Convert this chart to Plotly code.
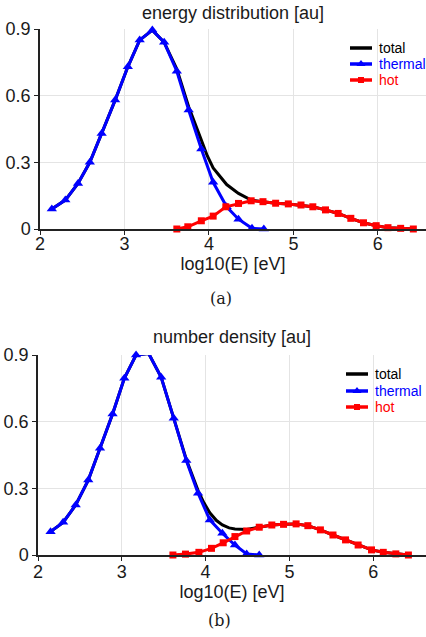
import plotly.graph_objects as go

# ---------------- data: panel (a) energy distribution ----------------
x_thermal_a = [2.14, 2.30, 2.45, 2.59, 2.73, 2.89, 3.04, 3.18, 3.33, 3.47, 3.62, 3.76, 3.91, 4.05, 4.21, 4.35, 4.51, 4.65]
y_thermal_a = [0.09, 0.13, 0.205, 0.30, 0.43, 0.58, 0.73, 0.85, 0.895, 0.84, 0.71, 0.535, 0.36, 0.21, 0.10, 0.044, 0.003, 0.0]
x_hot_a = [3.62, 3.75, 3.91, 4.05, 4.20, 4.35, 4.50, 4.64, 4.79, 4.94, 5.09, 5.23, 5.38, 5.53, 5.68, 5.83, 5.98, 6.12, 6.27, 6.42]
y_hot_a = [0.0, 0.01, 0.037, 0.058, 0.10, 0.115, 0.127, 0.123, 0.116, 0.113, 0.108, 0.10, 0.086, 0.07, 0.048, 0.028, 0.015, 0.006, 0.003, 0.0]
x_total_a = [2.14, 2.30, 2.45, 2.59, 2.73, 2.89, 3.04, 3.18, 3.33, 3.47, 3.62, 3.76, 3.91, 3.98, 4.05, 4.13, 4.21, 4.35, 4.50,
             4.64, 4.79, 4.94, 5.09, 5.23, 5.38, 5.53, 5.68, 5.83, 5.98, 6.12, 6.27, 6.42]
y_total_a = [0.09, 0.13, 0.205, 0.30, 0.43, 0.58, 0.73, 0.85, 0.895, 0.84, 0.72, 0.55, 0.40, 0.33, 0.275, 0.235, 0.20, 0.16, 0.13,
             0.123, 0.116, 0.113, 0.108, 0.10, 0.086, 0.07, 0.048, 0.028, 0.015, 0.006, 0.003, 0.0]

# ---------------- data: panel (b) number density ----------------
x_thermal_b = [2.15, 2.30, 2.45, 2.60, 2.74, 2.89, 3.03, 3.17, 3.32, 3.47, 3.62, 3.77, 3.91, 4.05, 4.20, 4.35, 4.49, 4.64]
y_thermal_b = [0.105, 0.147, 0.225, 0.337, 0.48, 0.635, 0.795, 0.90, 0.907, 0.80, 0.615, 0.425, 0.278, 0.158, 0.098, 0.045, 0.005, 0.0]
x_hot_b = [3.61, 3.76, 3.92, 4.07, 4.21, 4.35, 4.49, 4.64, 4.79, 4.93, 5.08, 5.22, 5.37, 5.52, 5.67, 5.82, 5.98, 6.12, 6.27, 6.42]
y_hot_b = [0.0, 0.004, 0.012, 0.03, 0.055, 0.083, 0.108, 0.125, 0.135, 0.138, 0.14, 0.132, 0.113, 0.09, 0.068, 0.045, 0.023, 0.012, 0.005, 0.0]
x_total_b = [2.15, 2.30, 2.45, 2.60, 2.74, 2.89, 3.03, 3.17, 3.32, 3.47, 3.62, 3.77, 3.91, 3.98, 4.05, 4.13, 4.20, 4.28, 4.35, 4.49,
             4.64, 4.79, 4.93, 5.08, 5.22, 5.37, 5.52, 5.67, 5.82, 5.98, 6.12, 6.27, 6.42]
y_total_b = [0.105, 0.147, 0.225, 0.337, 0.48, 0.635, 0.795, 0.90, 0.907, 0.80, 0.615, 0.43, 0.29, 0.235, 0.19, 0.155, 0.135, 0.122, 0.117, 0.115,
             0.125, 0.135, 0.138, 0.14, 0.132, 0.113, 0.09, 0.068, 0.045, 0.023, 0.012, 0.005, 0.0]

titles = ["energy distribution [au]", "number density [au]"]
captions = ["(a)", "(b)"]
x_title = "log10(E) [eV]"
y_ticks = [0, 0.3, 0.6, 0.9]
y_ticklabels = ["0", "0.3", "0.6", "0.9"]
x_ticks = [2, 3, 4, 5, 6]
series_names = ["total", "thermal", "hot"]

W, H = 426, 637
BLUE = "#0000ff"
RED = "#ff0000"
FONT = "Liberation Sans, Arial, sans-serif"
TXT = "#1a1a1a"
colors = ["black", BLUE, RED]
symbols = [None, "triangle-up", "square"]
msizes = [0, 9, 7]

fig = go.Figure()

panels = [
    (x_total_a, y_total_a, x_thermal_a, y_thermal_a, x_hot_a, y_hot_a, "x", "y"),
    (x_total_b, y_total_b, x_thermal_b, y_thermal_b, x_hot_b, y_hot_b, "x2", "y2"),
]
for xt, yt, xth, yth, xh, yh, xa, ya in panels:
    fig.add_trace(go.Scatter(x=xt, y=yt, mode="lines", name=series_names[0], xaxis=xa, yaxis=ya,
                             line=dict(color=colors[0], width=3), cliponaxis=False, showlegend=False))
    fig.add_trace(go.Scatter(x=xth, y=yth, mode="lines+markers", name=series_names[1], xaxis=xa, yaxis=ya,
                             line=dict(color=colors[1], width=3), showlegend=False,
                             marker=dict(symbol=symbols[1], size=msizes[1], color=colors[1]), cliponaxis=False))
    fig.add_trace(go.Scatter(x=xh, y=yh, mode="lines+markers", name=series_names[2], xaxis=xa, yaxis=ya,
                             line=dict(color=colors[2], width=3), showlegend=False,
                             marker=dict(symbol=symbols[2], size=msizes[2], color=colors[2]), cliponaxis=False))

# ---------------- legends (drawn on a hidden pixel-unit overlay axis) ----------------
legend_specs = [(350, 372, [48, 64, 80]), (346, 368, [374, 391, 407])]
legend_msizes = [0, 8, 6]
annotations = []
for x0, x1, rows in legend_specs:
    for name, col, sym, ms, yrow in zip(series_names, colors, symbols, legend_msizes, rows):
        xm = (x0 + x1) / 2
        fig.add_trace(go.Scatter(x=[x0, x1], y=[yrow, yrow], mode="lines",
                                 xaxis="x3", yaxis="y3", showlegend=False, hoverinfo="skip",
                                 line=dict(color=col, width=3.5), cliponaxis=False))
        if sym:
            fig.add_trace(go.Scatter(x=[xm], y=[yrow], mode="markers",
                                     xaxis="x3", yaxis="y3", showlegend=False, hoverinfo="skip",
                                     marker=dict(symbol=sym, size=ms, color=col), cliponaxis=False))
        annotations.append(dict(text=name, x=(x1 + 5) / W, y=(H - yrow) / H, xref="paper", yref="paper",
                                xanchor="left", yanchor="middle", showarrow=False,
                                font=dict(family=FONT, size=14, color=col)))

def py(px):
    return (H - px) / H

axis_common = dict(showgrid=True, gridcolor="#e4e4e4", gridwidth=1, showline=True, linecolor="#222",
                   linewidth=1.5, ticks="outside", ticklen=4, tickcolor="#222", zeroline=False,
                   tickfont=dict(family=FONT, size=18, color=TXT))

fig.update_layout(
    width=W, height=H, plot_bgcolor="rgba(0,0,0,0)", paper_bgcolor="white",
    margin=dict(l=0, r=0, t=0, b=0, autoexpand=False),
    font=dict(family=FONT, color=TXT),
    showlegend=False,
    xaxis=dict(domain=[40 / W, 1], range=[2, 6.57], tickvals=x_ticks, anchor="y", ticklabelstandoff=-6,
               title=dict(text=x_title, font=dict(size=18, family=FONT, color=TXT), standoff=0), **axis_common),
    yaxis=dict(domain=[py(229), py(29)], range=[0, 0.9], tickvals=y_ticks, ticktext=y_ticklabels, anchor="x",
               **axis_common),
    xaxis2=dict(domain=[38 / W, 1], range=[2, 6.63], tickvals=x_ticks, anchor="y2", ticklabelstandoff=-4,
                title=dict(text=x_title, font=dict(size=18, family=FONT, color=TXT), standoff=0), **axis_common),
    yaxis2=dict(domain=[py(555), py(355)], range=[0, 0.9], tickvals=y_ticks, ticktext=y_ticklabels, anchor="x2",
                **axis_common),
    xaxis3=dict(domain=[0, 1], range=[0, W], visible=False, fixedrange=True, anchor="y3"),
    yaxis3=dict(domain=[0, 1], range=[H, 0], visible=False, fixedrange=True, anchor="x3"),
)

annotations += [
    dict(text=titles[0], x=(40 / W + 1) / 2, y=py(13), xref="paper", yref="paper", showarrow=False,
         yanchor="middle", font=dict(family=FONT, size=18, color=TXT)),
    dict(text=titles[1], x=(38 / W + 1) / 2, y=py(337), xref="paper", yref="paper", showarrow=False,
         yanchor="middle", font=dict(family=FONT, size=18, color=TXT)),
    dict(text=captions[0], x=221 / W, y=py(298), xref="paper", yref="paper", showarrow=False,
         yanchor="middle", font=dict(family="DejaVu Serif, serif", size=16, color=TXT)),
    dict(text=captions[1], x=219 / W, y=py(620), xref="paper", yref="paper", showarrow=False,
         yanchor="middle", font=dict(family="DejaVu Serif, serif", size=16, color=TXT)),
]
fig.update_layout(annotations=annotations)

fig.write_html("out.html", config={"displayModeBar": False},
               post_script="document.body.style.margin='0px';")
